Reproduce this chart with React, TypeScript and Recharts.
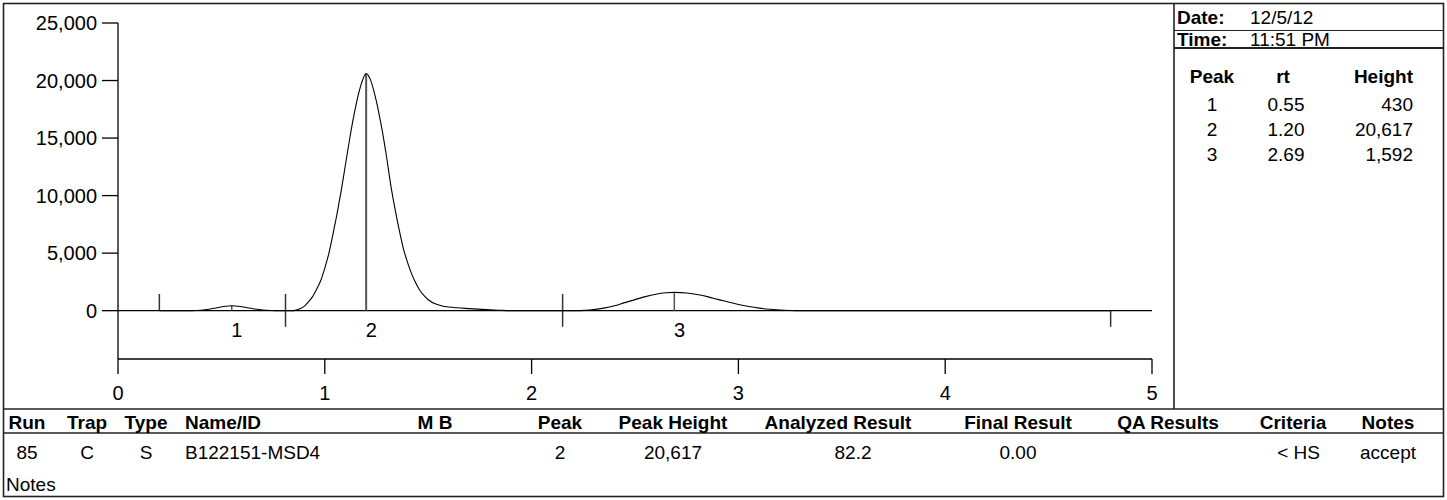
import React from 'react';
import { ComposedChart, Line, XAxis, YAxis, ReferenceLine, ReferenceDot } from 'recharts';

// ---- chromatogram trace (retention time in min, detector signal) ----
const times = [
  0.2, 0.3, 0.36, 0.4, 0.44, 0.48, 0.52, 0.55, 0.58, 0.62, 0.66, 0.7, 0.74, 0.78,
  0.85, 0.88, 0.9, 0.92, 0.94, 0.96, 0.98, 1.0, 1.02, 1.04, 1.06, 1.08, 1.1, 1.12, 1.14, 1.16, 1.18,
  1.2, 1.22, 1.24, 1.26, 1.28, 1.3, 1.32, 1.34, 1.36, 1.38, 1.4, 1.42, 1.44, 1.46, 1.48, 1.5,
  1.54, 1.58, 1.64, 1.7, 1.76, 1.84, 1.9, 2.0, 2.1, 2.2,
  2.26, 2.3, 2.35, 2.4, 2.45, 2.5, 2.55, 2.6, 2.65, 2.69, 2.75, 2.8, 2.85, 2.9, 2.95, 3.0,
  3.05, 3.1, 3.15, 3.2, 3.25, 3.3, 3.6, 4.0, 4.4, 4.8,
];
const intensities = [
  0, 0, 0, 40, 120, 250, 380, 430, 390, 270, 150, 60, 15, 0,
  0, 170, 370, 750, 1200, 1850, 2600, 3700, 5000, 6700, 8500, 10500, 12700, 14900, 16900, 18600, 19900,
  20617, 20100, 18900, 17300, 15400, 13200, 10800, 8800, 7000, 5400, 4200, 3200, 2400, 1750, 1300, 950,
  550, 360, 250, 180, 110, 40, 0, 0, 0, 0,
  30, 90, 220, 420, 700, 960, 1220, 1430, 1560, 1592, 1540, 1400, 1220, 980, 760, 540,
  360, 220, 120, 60, 20, 0, 0, 0, 0, 0,
];

// ---- peaks ----
const peakNumbers = ['1', '2', '3'];
const peakRt = [0.55, 1.2, 2.69];
const peakRtText = ['0.55', '1.20', '2.69'];
const peakHeights = [430, 20617, 1592];
const peakHeightText = ['430', '20,617', '1,592'];

// integration boundaries: time and which side(s) of the baseline the marker spans
const boundaryTimes = [0.2, 0.81, 2.15, 4.8];
const boundaryUp = [true, true, true, false];
const boundaryDown = [false, true, true, true];

// ---- axes ----
const xTicks = [0, 1, 2, 3, 4, 5];
const yTicks = [0, 5000, 10000, 15000, 20000, 25000];

// ---- header info ----
const runDate = '12/5/12';
const runTime = '11:51 PM';

// ---- results table ----
const tableHeaders = ['Run', 'Trap', 'Type', 'Name/ID', 'M B', 'Peak', 'Peak Height', 'Analyzed Result', 'Final Result', 'QA Results', 'Criteria', 'Notes'];
const tableRow = ['85', 'C', 'S', 'B122151-MSD4', '', '2', '20,617', '82.2', '0.00', '', '< HS', 'accept'];

// ---- layout/style constants ----
const W = 1447;
const H = 500;
const FONT = '"Liberation Sans", Arial, Helvetica, sans-serif';
const MARK_UP = 1450;
const MARK_DOWN = -1400;
const LABEL_Y = -1700;
const LABEL_DX = 0.025;

const headerX = [27, 87, 146, 185, 435, 560, 673, 838, 1018, 1168, 1293, 1388];
const headerAnchor = ['middle', 'middle', 'middle', 'start', 'middle', 'middle', 'middle', 'middle', 'middle', 'middle', 'middle', 'middle'];
const rowX = [27, 87, 146, 185, 435, 560, 673, 853, 1018, 1168, 1320, 1388];
const rowAnchor = ['middle', 'middle', 'middle', 'start', 'middle', 'middle', 'middle', 'middle', 'middle', 'middle', 'end', 'middle'];

const chartData = times.map((t, i) => ({ t, v: intensities[i] }));

const fmt = (v: number) => v.toLocaleString('en-US');

export default function App() {
  return (
    <div style={{ position: 'absolute', left: 0, top: 0, width: W, height: H, background: '#fff' }}>
      <svg width={W} height={H} style={{ position: 'absolute', left: 0, top: 0 }} fontFamily={FONT}>
        {/* outer frame */}
        <rect x={3.5} y={3.5} width={W - 7} height={H - 7} fill="none" stroke="#222" strokeWidth={1.6} />
        {/* chart / table divider */}
        <line x1={3.5} x2={W - 3.5} y1={409} y2={409} stroke="#222" strokeWidth={1.6} />
        <line x1={3.5} x2={W - 3.5} y1={433} y2={433} stroke="#222" strokeWidth={1.3} />
        {/* right panel */}
        <line x1={1174} x2={1174} y1={3.5} y2={409} stroke="#222" strokeWidth={1.6} />
        <line x1={1174} x2={W - 3.5} y1={30.5} y2={30.5} stroke="#222" strokeWidth={1.2} />
        <line x1={1174} x2={W - 3.5} y1={48} y2={48} stroke="#222" strokeWidth={1.8} />
        <text x={1177} y={17.5} fontSize={19} fontWeight="bold" dominantBaseline="central">Date:</text>
        <text x={1250} y={17.5} fontSize={19} dominantBaseline="central">{runDate}</text>
        <text x={1177} y={39.5} fontSize={19} fontWeight="bold" dominantBaseline="central">Time:</text>
        <text x={1250} y={39.5} fontSize={19} dominantBaseline="central">{runTime}</text>
        <text x={1212} y={76} fontSize={19} fontWeight="bold" textAnchor="middle" dominantBaseline="central">Peak</text>
        <text x={1283} y={76} fontSize={19} fontWeight="bold" textAnchor="middle" dominantBaseline="central">rt</text>
        <text x={1413} y={76} fontSize={19} fontWeight="bold" textAnchor="end" dominantBaseline="central">Height</text>
        {peakNumbers.map((p, i) => (
          <g key={p} fontSize={19}>
            <text x={1212} y={104 + i * 25} textAnchor="middle" dominantBaseline="central">{p}</text>
            <text x={1286} y={104 + i * 25} textAnchor="middle" dominantBaseline="central">{peakRtText[i]}</text>
            <text x={1413} y={104 + i * 25} textAnchor="end" dominantBaseline="central">{peakHeightText[i]}</text>
          </g>
        ))}
        {/* results table */}
        {tableHeaders.map((h, i) => (
          <text key={h} x={headerX[i]} y={422} fontSize={19} fontWeight="bold" textAnchor={headerAnchor[i] as any} dominantBaseline="central">{h}</text>
        ))}
        {tableRow.map((c, i) => (
          <text key={i} x={rowX[i]} y={452} fontSize={19} textAnchor={rowAnchor[i] as any} dominantBaseline="central">{c}</text>
        ))}
        <text x={6} y={484} fontSize={19} dominantBaseline="central">Notes</text>
      </svg>
      <div style={{ position: 'absolute', left: 0, top: 0 }}>
        <ComposedChart width={W} height={H} data={chartData} margin={{ top: 23, right: 295, bottom: 101, left: 0 }}>
          <XAxis
            dataKey="t"
            type="number"
            domain={[0, 5]}
            ticks={xTicks}
            interval={0}
            height={40}
            tickSize={15}
            tickMargin={12}
            stroke="#000"
            strokeWidth={1.3}
            tick={{ fill: '#000', fontSize: 20, fontFamily: FONT }}
            tickLine={{ stroke: '#000', strokeWidth: 1.3 }}
            allowDataOverflow
          />
          <YAxis
            type="number"
            domain={[-4200, 25000]}
            ticks={yTicks}
            interval={0}
            width={118}
            tickSize={16}
            tickMargin={5}
            stroke="#000"
            strokeWidth={1.3}
            tickFormatter={fmt}
            tick={{ fill: '#000', fontSize: 20, fontFamily: FONT }}
            tickLine={{ stroke: '#000', strokeWidth: 1.3 }}
            allowDataOverflow
          />
          <ReferenceLine y={0} stroke="#000" strokeWidth={1.2} />
          {boundaryTimes.map((t, i) => (
            <ReferenceLine
              key={'b' + i}
              segment={[{ x: t, y: boundaryDown[i] ? MARK_DOWN : 0 }, { x: t, y: boundaryUp[i] ? MARK_UP : 0 }]}
              stroke="#333"
              strokeWidth={1.5}
            />
          ))}
          {peakRt.map((t, i) => (
            <ReferenceLine
              key={'p' + i}
              segment={[{ x: t, y: 0 }, { x: t, y: peakHeights[i] }]}
              stroke="#555"
              strokeWidth={i === 1 ? 2 : 1.5}
            />
          ))}
          <Line
            dataKey="v"
            type="monotone"
            stroke="#000"
            strokeWidth={1.1}
            dot={false}
            activeDot={false}
            isAnimationActive={false}
          />
          {peakRt.map((t, i) => (
            <ReferenceDot
              key={'l' + i}
              x={t + LABEL_DX}
              y={LABEL_Y}
              r={0}
              shape={(p: any) => (
                <text x={p.cx} y={p.cy} fontSize={20} fontFamily={FONT} textAnchor="middle" dominantBaseline="central" fill="#000">
                  {peakNumbers[i]}
                </text>
              )}
            />
          ))}
        </ComposedChart>
      </div>
    </div>
  );
}
